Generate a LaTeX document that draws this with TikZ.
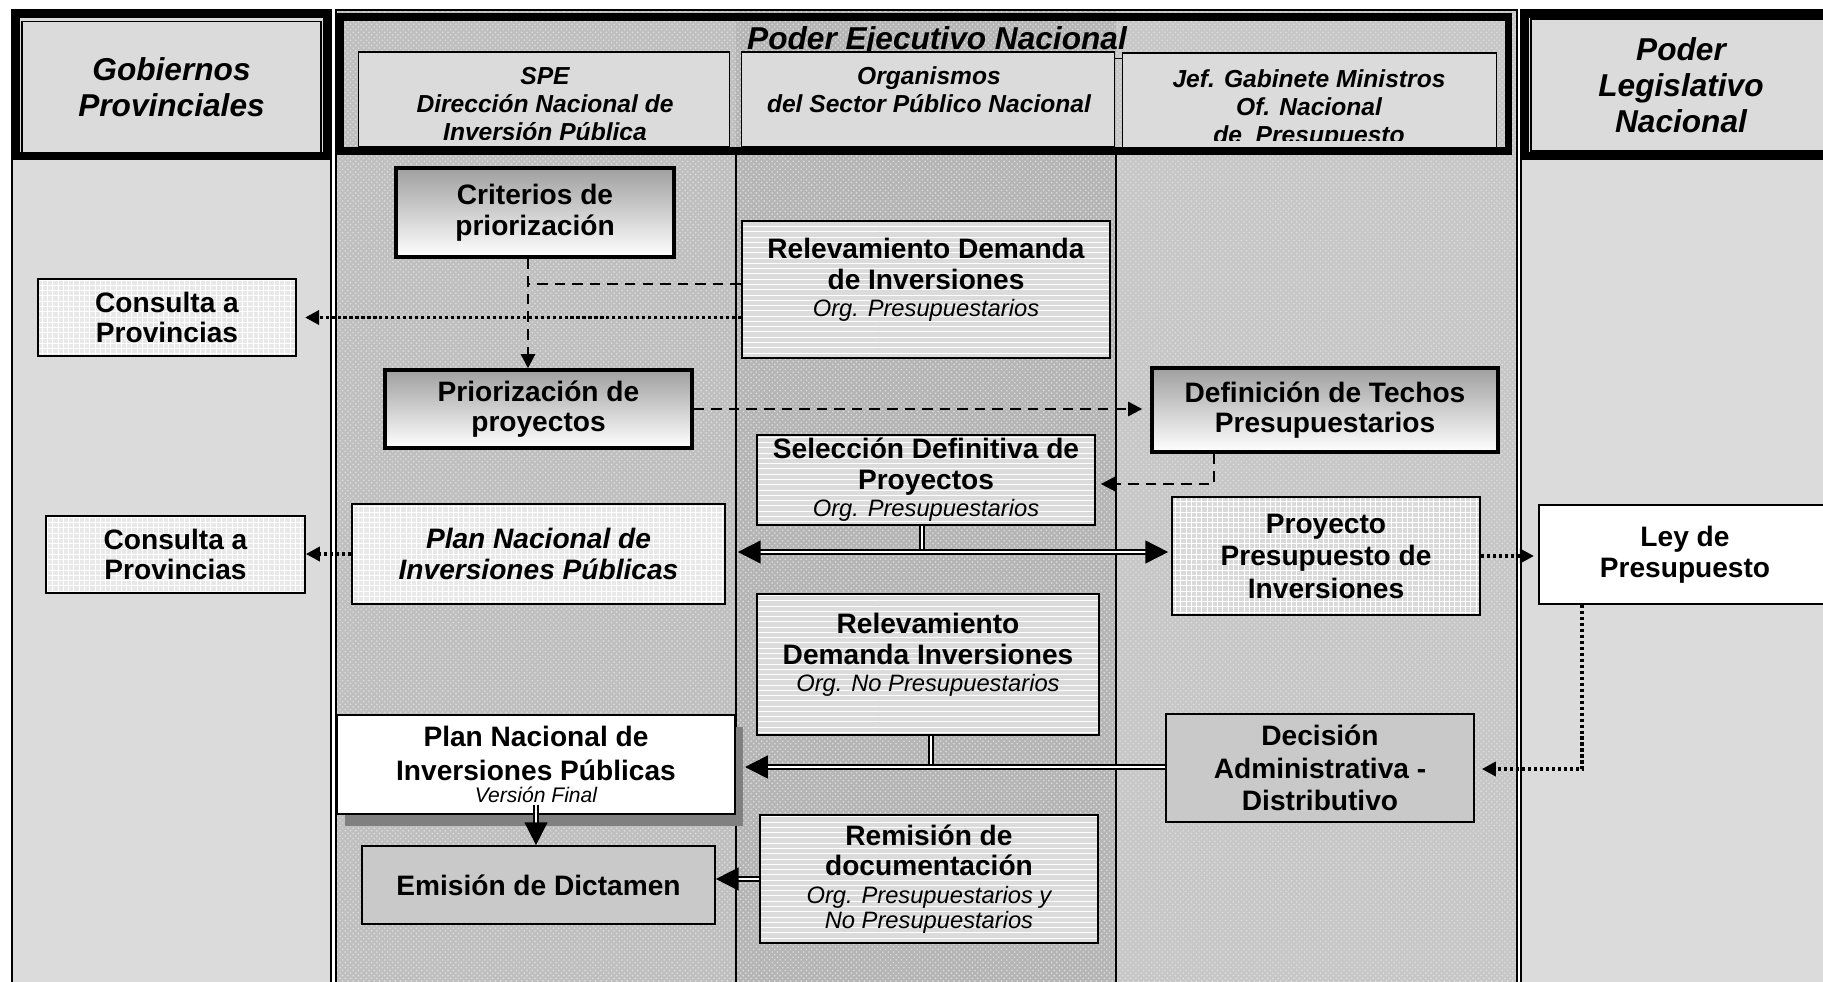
\documentclass[tikz,border=0pt]{standalone}
\usepackage{fontspec}
\setmainfont{Liberation Sans}
\usepackage{tikz}
\usetikzlibrary{arrows.meta}
\usetikzlibrary{patterns}
\usetikzlibrary{shadows}

\newcommand{\boxfont}{\fontsize{16}{17.5}\selectfont\bfseries}
\newcommand{\subfont}{\fontsize{13.5}{16}\selectfont\mdseries\itshape}
\newcommand{\colfont}{\fontsize{18}{20.5}\selectfont\bfseries\itshape}
\newcommand{\unitfont}{\fontsize{14}{16}\selectfont\bfseries\itshape}

\tikzstyle{colbody}=[draw=black,line width=0.6pt,fill=gray!28]
\tikzstyle{lanebody}=[pattern=crosshatch dots,pattern color=gray!25]
\tikzstyle{headframe}=[draw=black,line width=4pt]
\tikzstyle{headbox}=[draw=black,line width=0.8pt,fill=gray!28,inner sep=0pt]
\tikzstyle{gradbox}=[draw=black,line width=2pt,top color=gray!75,bottom color=white,align=center,font=\boxfont,inner sep=2pt]
\tikzstyle{stripebox}=[draw=black,line width=1pt,preaction={fill=gray!28},pattern=horizontal lines,pattern color=white,align=center,font=\boxfont,inner sep=2pt]
\tikzstyle{gridbox}=[draw=black,line width=1pt,preaction={fill=gray!18},pattern=grid,pattern color=white,align=center,font=\boxfont,inner sep=2pt]
\tikzstyle{darkbox}=[draw=black,line width=1pt,fill=gray!42,align=center,font=\boxfont,inner sep=2pt]
\tikzstyle{whitebox}=[draw=black,line width=1.2pt,fill=white,align=center,font=\boxfont,inner sep=2pt]
\tikzstyle{dashline}=[line width=1.3pt,dash pattern=on 6pt off 4pt]
\tikzstyle{dasharrow}=[dashline,-{Triangle[length=8pt,width=8pt]}]
\tikzstyle{dotarrow}=[line width=2.2pt,dash pattern=on 1.8pt off 1.6pt,-{Triangle[length=8pt,width=8pt]}]
\tikzstyle{dblline}=[line width=1pt,double=white,double distance=1.6pt]
\tikzstyle{dblarrow}=[dblline,-{Triangle[length=13pt,width=13pt]}]
\tikzstyle{dblboth}=[dblline,{Triangle[length=13pt,width=13pt]}-{Triangle[length=13pt,width=13pt]}]

\begin{document}
\begin{tikzpicture}[x=0.02cm,y=-0.02cm]
\useasboundingbox (0,0) rectangle (1823,981);

\draw[colbody] (12,10) rectangle (331,990);
\draw[colbody] (1521,10) rectangle (1840,990);
\fill[gray!50] (336,10) rectangle (736,990);
\fill[gray!58] (736,10) rectangle (1116,990);
\fill[gray!44] (1116,10) rectangle (1517,990);
\fill[lanebody] (336,10) rectangle (1517,990);
\draw[line width=0.6pt] (336,10) rectangle (1517,990);
\draw[line width=0.6pt] (736,152) -- (736,990) (1116,152) -- (1116,990);

\draw[headframe] (16,14) rectangle (327,156);
\node[headbox,font=\colfont,align=center,minimum width=5.98cm,minimum height=2.62cm] (gob) at (171.5,87) {Gobiernos\\Provinciales};

\draw[headframe] (1525,14) rectangle (1845,156);
\node[headbox,font=\colfont,align=center,minimum width=6cm,minimum height=2.64cm] (leg) at (1681,85) {Poder\\Legislativo\\Nacional};

\draw[headframe] (340,17) rectangle (1508,151);
\node[font=\colfont,anchor=base,inner sep=0pt] (pen) at (937,49) {\underline{Poder Ejecutivo Nacional}};

\node[headbox,minimum width=7.43cm,minimum height=1.9cm] (spe) at (544,99.5) {};
\begin{scope}
\clip (spe.north west) rectangle (spe.east |- 0,139);
\node[font=\unitfont,align=center,anchor=north,inner sep=0pt] (spetxt) at (545,67) {SPE\\Dirección Nacional de\\Inversión Pública};
\end{scope}

\node[headbox,minimum width=7.45cm,minimum height=1.9cm] (org) at (928,99.5) {};
\begin{scope}
\clip (org.north west) rectangle (org.east |- 0,139);
\node[font=\unitfont,align=center,anchor=north,inner sep=0pt] (orgtxt) at (929,66) {Organismos\\del Sector Público Nacional};
\end{scope}

\node[headbox,minimum width=7.48cm,minimum height=1.9cm] (jef) at (1309.6,100.5) {};
\begin{scope}
\clip (jef.north west) rectangle (jef.east |- 0,140);
\node[font=\unitfont,align=center,anchor=north,inner sep=0pt] (jeftxt) at (1309,69) {Jef. Gabinete Ministros\\Of. Nacional\\de~~Presupuesto};
\end{scope}

\node[gridbox,minimum width=5.17cm,minimum height=1.54cm] (cons1) at (167,317.5) {Consulta a\\Provincias};
\node[gradbox,minimum width=5.56cm,minimum height=1.78cm] (crit) at (535,212.5) {Criterios de\\priorización};
\node[stripebox,minimum width=7.37cm,minimum height=2.74cm] (rel1) at (926,289.5) {Relevamiento Demanda\\de Inversiones\\[-2pt]{\subfont Org. Presupuestarios}\\[-4pt]\mbox{}};
\node[gradbox,minimum width=6.14cm,minimum height=1.56cm] (prio) at (538.5,409) {Priorización de\\proyectos};
\node[gradbox,minimum width=6.92cm,minimum height=1.68cm] (def) at (1325,410) {Definición de Techos\\Presupuestarios};
\node[stripebox,minimum width=6.76cm,minimum height=1.8cm] (sel) at (926,480) {Selección Definitiva de\\Proyectos\\[-2pt]{\subfont Org. Presupuestarios}};
\node[gridbox,minimum width=5.18cm,minimum height=1.54cm] (cons2) at (175.5,554.5) {Consulta a\\Provincias};
\node[gridbox,font=\boxfont\itshape,minimum width=7.46cm,minimum height=2cm] (plan1) at (538.5,554) {Plan Nacional de\\Inversiones Públicas};
\node[gridbox,preaction={fill=gray!30},minimum width=6.16cm,minimum height=2.36cm] (proy) at (1326,556) {Proyecto\\[1pt]Presupuesto de\\[1pt]Inversiones};
\node[whitebox,minimum width=5.84cm,minimum height=1.98cm] (ley) at (1685,554.5) {Ley de\\Presupuesto};
\node[stripebox,minimum width=6.84cm,minimum height=2.82cm] (rel2) at (928,664.5) {Relevamiento\\Demanda Inversiones\\[-2pt]{\subfont Org. No Presupuestarios}\\[-4pt]\mbox{}};
\node[whitebox,drop shadow={shadow xshift=0.16cm,shadow yshift=-0.24cm,fill=gray,opacity=1},minimum width=7.96cm,minimum height=1.98cm] (planf) at (536,764.5) {Plan Nacional de\\[2pt]Inversiones Públicas\\[-5pt]{\subfont\fontsize{12}{14}\selectfont Versión Final}};
\node[darkbox,minimum width=6.16cm,minimum height=2.16cm] (dec) at (1320,768) {Decisión\\[1pt]Administrativa -\\[1pt]Distributivo};
\node[darkbox,minimum width=7.06cm,minimum height=1.56cm] (emi) at (538.5,885) {Emisión de Dictamen};
\node[stripebox,minimum width=6.76cm,minimum height=2.56cm] (rem) at (929,879) {Remisión de\\documentación\\[-2pt]{\subfont Org. Presupuestarios y}\\[-3pt]{\subfont No Presupuestarios}};

\coordinate (j1) at (528,284);
\coordinate (j2) at (1214,484);
\coordinate (j3) at (922,552);
\coordinate (j5) at (1582,769);
\coordinate (j6) at (931,767);

\draw[dasharrow] (crit.south -| j1) -- (prio.north -| j1);
\draw[dashline] (rel1.west |- j1) -- (j1);
\draw[dotarrow,shorten >=0.16cm] (rel1.west |- cons1.east) -- (cons1.east);
\draw[dasharrow,shorten >=0.16cm] (prio.east) -- (def.west |- prio.east);
\draw[dasharrow,shorten >=0.1cm] (def.south -| j2) |- (sel.east |- j2);
\draw[dotarrow] (plan1.west) -- (cons2.east |- plan1.west);
\draw[dblline] (sel.south -| j3) -- (j3);
\draw[dblboth,shorten <=0.24cm,shorten >=0.06cm] (plan1.east |- j3) -- (proy.west |- j3);
\draw[dotarrow,shorten >=0.08cm] (proy.east) -- (ley.west |- proy.east);
\draw[dotarrow,shorten >=0.14cm] (ley.south -| j5) |- (dec.east |- j5);
\draw[dblline] (rel2.south -| j6) -- (j6);
\draw[dblarrow,shorten >=0.18cm] (dec.west |- j6) -- (planf.east |- j6);
\draw[dblarrow] ([yshift=0.2cm]planf.south) -- (emi.north -| planf.south);
\draw[dblarrow] (rem.west) -- (emi.east |- rem.west);

\end{tikzpicture}
\end{document}
